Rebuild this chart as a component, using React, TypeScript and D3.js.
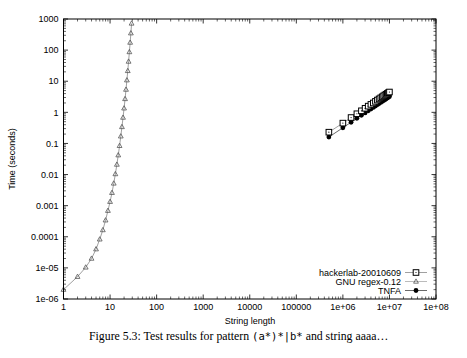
import React from "react";
import * as d3 from "d3";

const xTickLabels = ["1", "10", "100", "1000", "10000", "100000", "1e+06", "1e+07", "1e+08"];
const yTickLabels = ["1e-06", "1e-05", "0.0001", "0.001", "0.01", "0.1", "1", "10", "100", "1000"];

const gnuLengths = [1, 2, 3, 4, 5, 6, 7, 8, 9, 10, 11, 12, 13, 14, 15, 16, 17, 18, 19, 20, 21, 22, 23, 24, 25, 26, 27, 28, 29];
const gnuTimes = [2.0e-6, 5.2e-6, 1.04e-5, 2.0e-5, 4.0e-5, 8.3e-5, 1.65e-4, 3.4e-4, 6.9e-4, 1.34e-3, 2.6e-3, 5.2e-3, 1.04e-2, 2.1e-2, 4.2e-2, 8.4e-2, 0.17, 0.34, 0.68, 1.35, 2.7, 5.4, 10.8, 21.5, 43, 87, 175, 350, 720];

const bigLengths = [5e5, 1e6, 1.5e6, 2e6, 2.5e6, 3e6, 3.5e6, 4e6, 4.5e6, 5e6, 5.5e6, 6e6, 6.5e6, 7e6, 7.5e6, 8e6, 8.5e6, 9e6, 9.5e6, 1e7];
const hackerTimes = [0.23, 0.45, 0.68, 0.9, 1.12, 1.35, 1.58, 1.8, 2.0, 2.25, 2.48, 2.7, 2.92, 3.15, 3.38, 3.6, 3.82, 4.05, 4.28, 4.5];
const tnfaTimes = [0.16, 0.32, 0.48, 0.64, 0.8, 0.96, 1.12, 1.28, 1.44, 1.6, 1.76, 1.92, 2.08, 2.24, 2.4, 2.56, 2.72, 2.88, 3.04, 3.2];

const legendLabels = ["hackerlab-20010609", "GNU regex-0.12", "TNFA"];

const W = 467, H = 358;
const L = 63.5, R = 436, T = 19, B = 299;
const FONT = "'Liberation Sans', Arial, sans-serif";

export default function App() {
  const x = d3.scaleLog().domain([1, 1e8]).range([L, R]);
  const y = d3.scaleLog().domain([1e-6, 1000]).range([B, T]);

  const xMajor = d3.range(0, 9).map((e) => Math.pow(10, e));
  const yMajor = d3.range(-6, 4).map((e) => Math.pow(10, e));
  const xMinor: number[] = [];
  xMajor.slice(0, -1).forEach((m) => { for (let k = 2; k <= 9; k++) xMinor.push(m * k); });
  const yMinor: number[] = [];
  yMajor.slice(0, -1).forEach((m) => { for (let k = 2; k <= 9; k++) yMinor.push(m * k); });

  const line = d3.line<[number, number]>().x((d) => x(d[0])).y((d) => y(d[1]));
  const gnuPts: [number, number][] = gnuLengths.map((n, i) => [n, gnuTimes[i]]);
  const hackPts: [number, number][] = bigLengths.map((n, i) => [n, hackerTimes[i]]);
  const tnfaPts: [number, number][] = bigLengths.map((n, i) => [n, tnfaTimes[i]]);

  const tri = (cx: number, cy: number, key: string | number) => (
    <path key={key} d={`M${cx},${cy - 2.6} L${cx + 2.4},${cy + 1.7} L${cx - 2.4},${cy + 1.7} Z`} fill="none" stroke="#555" strokeWidth={0.8} />
  );
  const sq = (cx: number, cy: number, key: string | number) => (
    <g key={key}>
      <rect x={cx - 2.8} y={cy - 2.8} width={5.6} height={5.6} fill="#fff" stroke="#000" strokeWidth={1} />
      <circle cx={cx} cy={cy} r={0.6} fill="#000" />
    </g>
  );
  const dot = (cx: number, cy: number, key: string | number) => (
    <circle key={key} cx={cx} cy={cy} r={2.4} fill="#000" />
  );

  const legY = [272.5, 281.5, 290.5];

  return (
    <svg width={W} height={H} style={{ position: "absolute", left: 0, top: 0, background: "#fff" }}>
      <rect x={0} y={0} width={W} height={H} fill="#fff" />
      <g stroke="#000" strokeWidth={0.8}>
        {xMajor.map((v, i) => (
          <g key={"xm" + i}>
            <line x1={x(v)} x2={x(v)} y1={B} y2={B - 4.5} />
            <line x1={x(v)} x2={x(v)} y1={T} y2={T + 4.5} />
          </g>
        ))}
        {xMinor.map((v, i) => (
          <g key={"xn" + i} strokeWidth={0.6}>
            <line x1={x(v)} x2={x(v)} y1={B} y2={B - 2.5} />
            <line x1={x(v)} x2={x(v)} y1={T} y2={T + 2.5} />
          </g>
        ))}
        {yMajor.map((v, i) => (
          <g key={"ym" + i}>
            <line x1={L} x2={L + 4.5} y1={y(v)} y2={y(v)} />
            <line x1={R} x2={R - 4.5} y1={y(v)} y2={y(v)} />
          </g>
        ))}
        {yMinor.map((v, i) => (
          <g key={"yn" + i} strokeWidth={0.6}>
            <line x1={L} x2={L + 2.5} y1={y(v)} y2={y(v)} />
            <line x1={R} x2={R - 2.5} y1={y(v)} y2={y(v)} />
          </g>
        ))}
      </g>
      <g fontFamily={FONT} fontSize={9} fill="#000">
        {xMajor.map((v, i) => (
          <text key={"xl" + i} x={x(v)} y={310} textAnchor="middle">{xTickLabels[i]}</text>
        ))}
        {yMajor.map((v, i) => (
          <text key={"yl" + i} x={L - 5} y={y(v) + 3.2} textAnchor="end">{yTickLabels[i]}</text>
        ))}
        <text x={250} y={324} textAnchor="middle">String length</text>
        <text transform={`translate(15,159) rotate(-90)`} textAnchor="middle">Time (seconds)</text>
      </g>
      <path d={line(gnuPts) || ""} fill="none" stroke="#888" strokeWidth={0.8} />
      {gnuPts.map((p, i) => tri(x(p[0]), y(p[1]), "t" + i))}
      <path d={line(tnfaPts) || ""} fill="none" stroke="#444" strokeWidth={0.8} />
      <path d={line(hackPts) || ""} fill="none" stroke="#888" strokeWidth={0.8} />
      {tnfaPts.map((p, i) => dot(x(p[0]), y(p[1]), "c" + i))}
      {hackPts.map((p, i) => sq(x(p[0]), y(p[1]), "s" + i))}
      <g fontFamily={FONT} fontSize={9} fill="#000">
        {legendLabels.map((lab, i) => (
          <text key={"lg" + i} x={401} y={legY[i] + 3.2} textAnchor="end">{lab}</text>
        ))}
      </g>
      <line x1={405} x2={427} y1={legY[0]} y2={legY[0]} stroke="#888" strokeWidth={0.8} />
      {sq(416, legY[0], "ls")}
      <line x1={405} x2={427} y1={legY[1]} y2={legY[1]} stroke="#aaa" strokeWidth={0.8} />
      {tri(416, legY[1], "lt")}
      <line x1={405} x2={427} y1={legY[2]} y2={legY[2]} stroke="#444" strokeWidth={0.8} />
      {dot(416, legY[2], "lc")}
      <rect x={L} y={T} width={R - L} height={B - T} fill="none" stroke="#000" strokeWidth={1} />
      <text x={89} y={340} fontFamily="'Liberation Serif', 'Times New Roman', serif" fontSize={11.8} fill="#000">
        Figure 5.3: Test results for pattern{" "}
        <tspan fontFamily="'DejaVu Sans Mono', 'Liberation Mono', monospace" fontSize={10.5}>(a*)*|b*</tspan>
        {" "}and string aaaa…
      </text>
    </svg>
  );
}
